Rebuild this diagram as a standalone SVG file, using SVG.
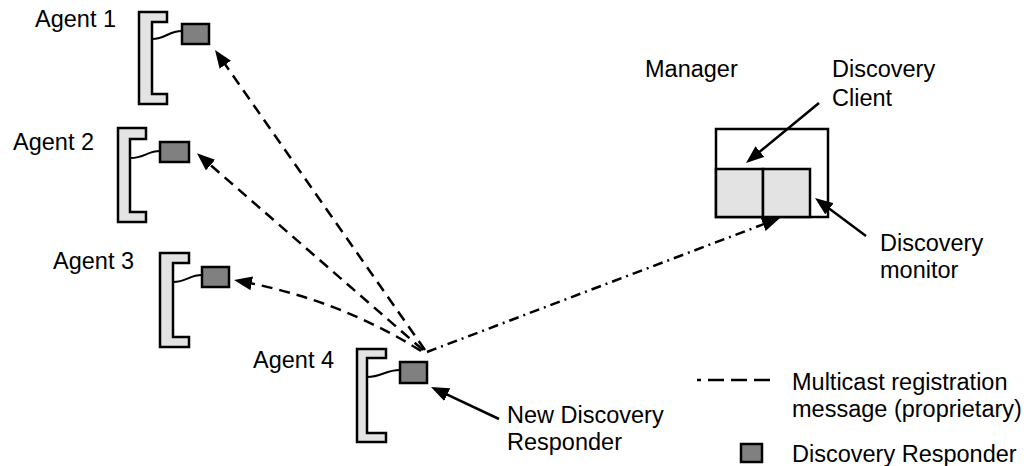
<svg xmlns="http://www.w3.org/2000/svg" width="1027" height="466" viewBox="0 0 1027 466">
  <style>
    text { font-family: "Liberation Sans", Arial, sans-serif; font-size: 23.5px; fill: #000; }
    .bracket { fill: #e3e3e3; stroke: #000; stroke-width: 2.5; stroke-linejoin: miter; }
    .resp { fill: #808080; stroke: #000; stroke-width: 2.5; }
    .wire { fill: none; stroke: #000; stroke-width: 2; }
    .box { fill: #fff; stroke: #000; stroke-width: 2.5; }
    .sub { fill: #e3e3e3; stroke: #000; stroke-width: 2.5; }
    .solid { fill: none; stroke: #000; stroke-width: 2.5; }
    .dash { fill: none; stroke: #000; stroke-width: 2.5; stroke-dasharray: 11 7; }
    .dashdot { fill: none; stroke: #000; stroke-width: 2.5; stroke-dasharray: 10 5 2 5; }
  </style>
  <defs>
    <marker id="head" viewBox="0 0 18 14" refX="10" refY="7" markerWidth="18" markerHeight="14" markerUnits="userSpaceOnUse" orient="auto">
      <path d="M0,0 L18,7 L0,14 Z" fill="#000"/>
    </marker>
  </defs>

  <!-- Agents: bracket, responder box and its wire -->
  <g id="agent1">
    <path class="bracket" d="M139,12 H167 V22 H152 V94 H167 V104 H139 Z"/>
    <path class="wire" d="M152,39 C166,39 168,31 182,31"/>
    <rect class="resp" x="182" y="24" width="27" height="20"/>
    <text x="35" y="27">Agent 1</text>
  </g>
  <g id="agent2">
    <path class="bracket" d="M118,128 H146 V139 H130 V212 H146 V222 H118 Z"/>
    <path class="wire" d="M130,158 C145,158 147,151 160,151"/>
    <rect class="resp" x="160" y="142" width="29" height="20"/>
    <text x="13" y="150">Agent 2</text>
  </g>
  <g id="agent3">
    <path class="bracket" d="M160,253 H189 V263 H173 V337 H189 V347 H160 Z"/>
    <path class="wire" d="M173,282 C187,282 189,275 202,275"/>
    <rect class="resp" x="202" y="267" width="27" height="20"/>
    <text x="53" y="269">Agent 3</text>
  </g>
  <g id="agent4">
    <path class="bracket" d="M357,349 H386 V358 H367 V433 H386 V442 H357 Z"/>
    <path class="wire" d="M367,377 C382,377 385,370 400,370"/>
    <rect class="resp" x="400" y="362" width="27" height="21"/>
    <text x="253" y="368">Agent 4</text>
  </g>

  <!-- Manager with discovery client and monitor -->
  <g id="manager">
    <rect class="box" x="716" y="129" width="112" height="88"/>
    <rect class="sub" x="716" y="169" width="47" height="48"/>
    <rect class="sub" x="763" y="169" width="47" height="48"/>
    <text x="645" y="77">Manager</text>
  </g>
  <g id="client-label">
    <text x="832" y="77">Discovery</text>
    <text x="832" y="106">Client</text>
  </g>
  <g id="monitor-label">
    <text x="880" y="251">Discovery</text>
    <text x="880" y="278">monitor</text>
  </g>
  <g id="new-responder-label">
    <text x="507" y="423">New Discovery</text>
    <text x="507" y="450">Responder</text>
  </g>

  <!-- Connectors -->
  <g id="connectors">
    <path class="dash" d="M425,350 L219.6,56.5" marker-end="url(#head)"/>
    <path class="dash" d="M423,350 L203,158.5" marker-end="url(#head)"/>
    <path class="dash" d="M421,351 Q340,300 241.9,281.5" marker-end="url(#head)"/>
    <path class="dashdot" d="M427,352 L772.5,220.8" marker-end="url(#head)"/>
    <path class="solid" d="M819,103 L752.2,157.9" marker-end="url(#head)"/>
    <path class="solid" d="M866,236 L821.4,202.8" marker-end="url(#head)"/>
    <path class="solid" d="M499,419 L438.2,390.4" marker-end="url(#head)"/>
  </g>

  <!-- Legend -->
  <g id="legend">
    <path fill="none" stroke="#000" stroke-width="2.5" stroke-dasharray="16 7" stroke-dashoffset="12" d="M697,380 H775"/>
    <text x="792" y="390">Multicast registration</text>
    <text x="792" y="417">message (proprietary)</text>
    <rect class="resp" x="741" y="444" width="21" height="18"/>
    <text x="792" y="462">Discovery Responder</text>
  </g>
</svg>
